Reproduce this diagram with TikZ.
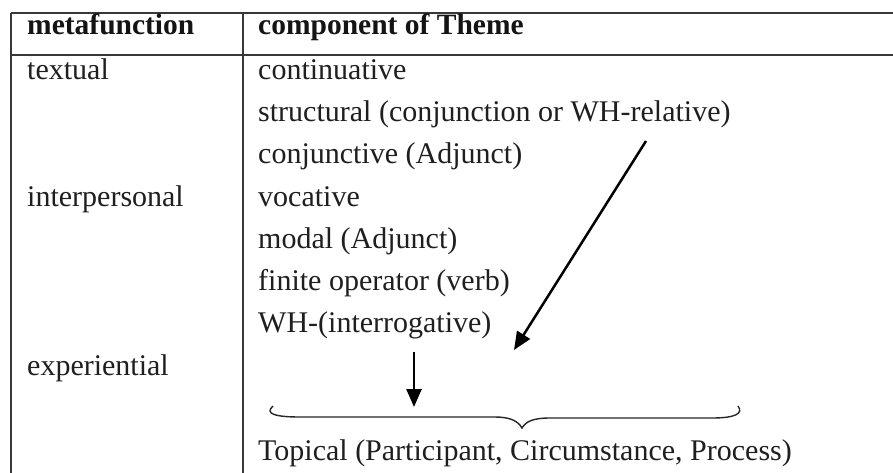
\documentclass[tikz,border=0pt]{standalone}
\usepackage{fontspec}
\setmainfont{Liberation Serif}
\usetikzlibrary{arrows.meta}
\begin{document}
\begin{tikzpicture}[x=1pt,y=-1pt,
  txt/.style={anchor=base west,inner sep=0pt,font=\fontsize{30}{36}\selectfont,text=black!88},
  hdr/.style={anchor=base west,inner sep=0pt,font=\fontsize{29.5}{36}\selectfont\bfseries,text=black!92},
  rule/.style={draw=black!78,line width=1.8pt},
  arr/.style={draw=black,line width=2.5pt,-{Triangle[length=18pt,width=15pt]}},
  bracestyle/.style={draw=black!85,line width=1.4pt}]
\useasboundingbox[fill=white] (0,0) rectangle (893,473);
% table rules
\draw[rule] (11,13) -- (893,13);
\draw[rule] (11,55) -- (893,55);
\draw[rule] (11,13) -- (11,473);
\draw[rule] (243,13) -- (243,473);
% header
\node[hdr] (h1) at (27,35) {metafunction};
\node[hdr] (h2) at (258,35) {component of Theme};
% left column
\node[txt] (textual) at (27,80) {textual};
\node[txt] (interp) at (27,206) {interpersonal};
\node[txt] (exper) at (27,375) {experiential};
% right column
\node[txt] (c1) at (258,80) {continuative};
\node[txt] (c2) at (258,122) {structural (conjunction or WH-relative)};
\node[txt] (c3) at (258,164) {conjunctive (Adjunct)};
\node[txt] (c4) at (258,206) {vocative};
\node[txt] (c5) at (258,248) {modal (Adjunct)};
\node[txt] (c6) at (258,290) {finite operator (verb)};
\node[txt] (c7) at (258,332) {WH-(interrogative)};
\node[txt] (topical) at (258,460) {Topical (Participant, Circumstance, Process)};
% arrows
\coordinate (la1) at (646,141);
\coordinate (la2) at (514,350);
\coordinate (sa1) at (414,352);
\coordinate (sa2) at (414,407);
\draw[arr] (la1) -- (la2);
\draw[arr] (sa1) -- (sa2);
% brace
\coordinate (bl) at (273,406);
\coordinate (bm) at (522,428);
\coordinate (br) at (738,406);
\draw[bracestyle] (bl) .. controls (264,414) and (276,417) .. (300,417)
  -- (495,417) .. controls (510,417) and (518,421) .. (bm)
  .. controls (526,421) and (534,418) .. (550,418)
  -- (712,418) .. controls (734,418) and (744,414) .. (br);
\end{tikzpicture}
\end{document}
